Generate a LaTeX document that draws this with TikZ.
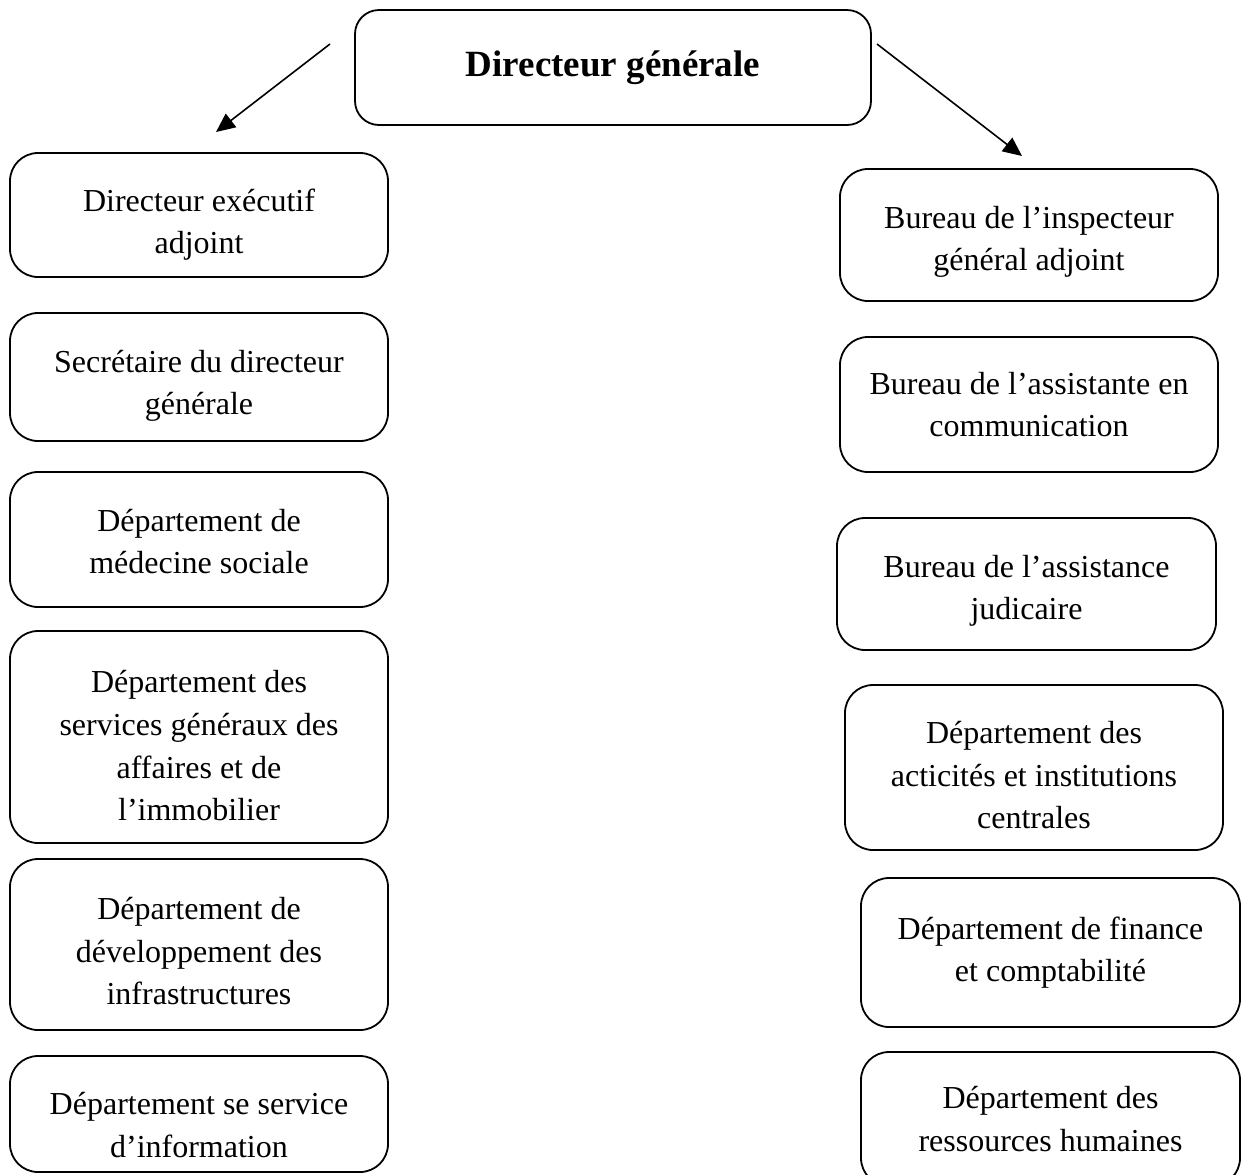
\documentclass[tikz,border=0pt]{standalone}
\usepackage{fontspec}
\setmainfont{Liberation Serif}
\usetikzlibrary{arrows.meta}
\newcommand{\lft}[1]{\rule{0pt}{#1pt}}
\begin{document}
\begin{tikzpicture}[x=0.5pt,y=-0.5pt,
  org/.style={draw, line width=0.9pt, rounded corners=14pt, align=center,
    font=\fontsize{16}{21.3}\selectfont, inner sep=0pt},
  topbox/.style={draw, line width=0.9pt, rounded corners=12pt, align=center,
    font=\fontsize{18.5}{22}\selectfont\bfseries, inner sep=0pt},
  arr/.style={line width=0.8pt, -{Triangle[length=9.5pt,width=8.5pt]}}]
\useasboundingbox (0,0) rectangle (1242,1174);
\clip (0,0) rectangle (1242,1174);
% top
\node[topbox, minimum width=258pt, minimum height=57.5pt] (dg) at (613,67.5) {Directeur générale};
% left column
\node[org, minimum width=189pt, minimum height=62pt] (l1) at (199,215) {\lft{21}Directeur exécutif\\adjoint};
\node[org, minimum width=189pt, minimum height=64pt] (l2) at (199,377) {\lft{20}Secrétaire du directeur\\générale};
\node[org, minimum width=189pt, minimum height=67.5pt] (l3) at (199,539.5) {\lft{13}Département de\\médecine sociale};
\node[org, minimum width=189pt, minimum height=106pt] (l4) at (199,737) {\lft{20}Département des\\services généraux des\\affaires et de\\l’immobilier};
\node[org, minimum width=189pt, minimum height=85.5pt] (l5) at (199,944.5) {\lft{18}Département de\\développement des\\infrastructures};
\node[org, minimum width=189pt, minimum height=58pt] (l6) at (199,1114) {\lft{22}Département se service\\d’information};
% right column
\node[org, minimum width=189pt, minimum height=66pt] (r1) at (1029,235) {\lft{18}Bureau de l’inspecteur\\général adjoint};
\node[org, minimum width=189pt, minimum height=67.5pt] (r2) at (1029,404.5) {Bureau de l’assistante en\\communication};
\node[org, minimum width=189.5pt, minimum height=66pt] (r3) at (1026.5,584) {\lft{18}Bureau de l’assistance\\judicaire};
\node[org, minimum width=189pt, minimum height=82.5pt] (r4) at (1034,767.5) {\lft{19}Département des\\acticités et institutions\\centrales};
\node[org, minimum width=189.5pt, minimum height=74.5pt] (r5) at (1050.5,952.5) {Département de finance\\et comptabilité};
\node[org, minimum width=189.5pt, minimum height=67pt] (r6) at (1050.5,1119) {Département des\\ressources humaines};
% arrows
\coordinate (la) at (330,44);
\coordinate (lb) at (216,132);
\coordinate (ra) at (877,44);
\coordinate (rb) at (1022,156);
\draw[arr] (la) -- (lb);
\draw[arr] (ra) -- (rb);
\end{tikzpicture}
\end{document}
